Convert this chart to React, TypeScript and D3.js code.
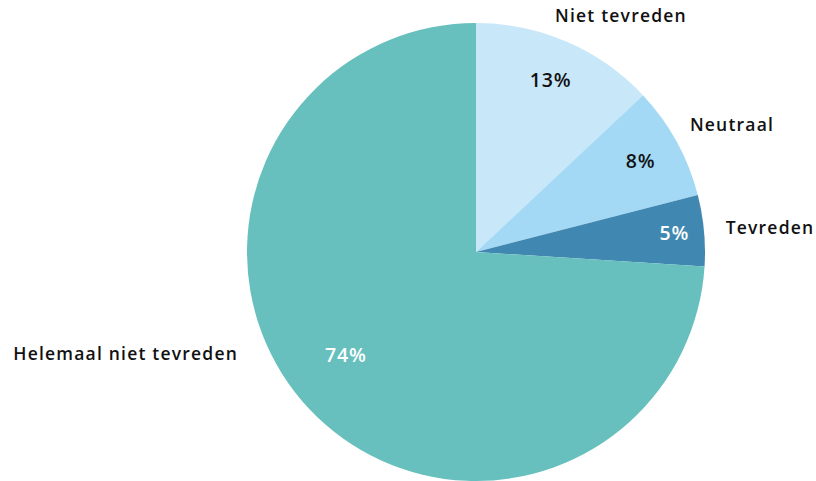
import React from "react";
import * as d3 from "d3";

const categories = ["Niet tevreden", "Neutraal", "Tevreden", "Helemaal niet tevreden"];
const values = [13, 8, 5, 74];
const colors = ["#c8e7f9", "#a4d9f5", "#4088b1", "#67c0bd"];
const pctColors = ["#111", "#111", "#fff", "#fff"];
const pctLayout = [
  { da: 0, r: 0.82 },
  { da: 0, r: 0.82 },
  { da: 0, r: 0.87 },
  { da: 4.8, r: 0.725 },
];
const nameLayout = [
  { dx: 145, dy: -236, anchor: "middle" },
  { dx: 256, dy: -127, anchor: "middle" },
  { dx: 294, dy: -24, anchor: "middle" },
  { dx: -238, dy: 102, anchor: "end" },
];

export default function App() {
  const W = 816, H = 481;
  const cx = 476, cy = 252, R = 229;
  const pie = d3.pie<number>().sort(null).value((d) => d)(values);
  const arc = d3.arc<d3.PieArcDatum<number>>().innerRadius(0).outerRadius(R);
  const font = "'Open Sans', sans-serif";
  return (
    <svg width={W} height={H} style={{ position: "absolute", left: 0, top: 0 }}>
      <g transform={`translate(${cx},${cy})`}>
        {pie.map((p, i) => (
          <path key={i} d={arc(p) || ""} fill={colors[i]} />
        ))}
        {pie.map((p, i) => {
          const a = (p.startAngle + p.endAngle) / 2 + (pctLayout[i].da * Math.PI) / 180;
          const r = R * pctLayout[i].r;
          return (
            <text key={"p" + i} x={r * Math.sin(a)} y={-r * Math.cos(a)} dy="0.35em"
              textAnchor="middle" fill={pctColors[i]} fontFamily={font} fontWeight={600}
              fontSize={19.5} letterSpacing={0.8}>{values[i]}%</text>
          );
        })}
        {categories.map((c, i) => (
          <text key={"n" + i} x={nameLayout[i].dx} y={nameLayout[i].dy} dy="0.35em"
            textAnchor={nameLayout[i].anchor as any} fill="#111" fontFamily={font}
            fontWeight={600} fontSize={17.5} letterSpacing={1.2}>{c}</text>
        ))}
      </g>
    </svg>
  );
}
